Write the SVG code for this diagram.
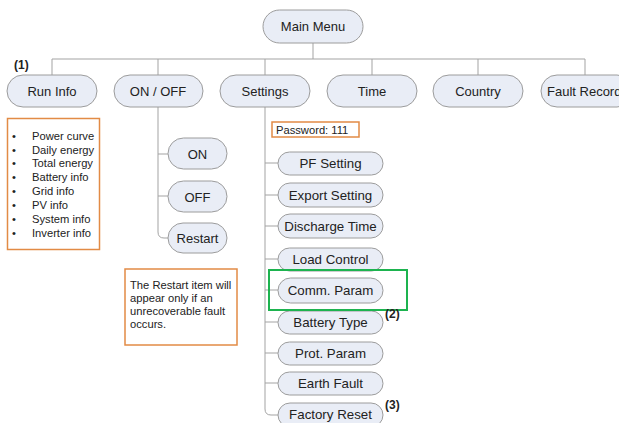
<svg xmlns="http://www.w3.org/2000/svg" width="619" height="423" viewBox="0 0 619 423">
  <style>
    .node { fill: #e9edf6; stroke: #9c9c9c; stroke-width: 1; }
    .lbl { font-family: "Liberation Sans", Arial, sans-serif; font-size: 13px; fill: #222; text-anchor: middle; }
    .sub { font-family: "Liberation Sans", Arial, sans-serif; font-size: 13.3px; fill: #222; text-anchor: middle; }
    .note { fill: #ffffff; stroke: #e28b45; stroke-width: 1.5; }
    .ntxt { font-family: "Liberation Sans", Arial, sans-serif; font-size: 11.2px; fill: #222; }
    .mark { font-family: "Liberation Sans", Arial, sans-serif; font-size: 12px; font-weight: bold; fill: #222; }
    .wire { fill: none; stroke: #a3a3a3; stroke-width: 1; }
  </style>
  <rect width="619" height="423" fill="#ffffff"/>

  <!-- connectors -->
  <g id="connectors" class="wire">
    <path d="M313 43 V59"/>
    <path d="M52 59 H585"/>
    <path d="M52 59 V75 M158 59 V75 M265 59 V75 M372 59 V75 M478 59 V75 M585 59 V75"/>
    <!-- ON / OFF branch -->
    <path d="M158 107 V232 Q158 238 164 238 H169"/>
    <path d="M158 154 H168 M158 196 H168"/>
    <!-- Settings branch -->
    <path d="M265 107 V409 Q265 415 271 415 H278"/>
    <path d="M265 163 H278 M265 195 H278 M265 226 H278 M265 259 H278 M265 290 H278 M265 322 H278 M265 353 H278 M265 383 H278"/>
  </g>

  <!-- top level -->
  <g id="main-menu"><rect class="node" x="263" y="10" width="100" height="33" rx="16.5"/><text class="lbl" x="313" y="31">Main Menu</text></g>
  <g id="run-info"><rect class="node" x="7" y="75" width="90" height="32" rx="16"/><text class="lbl" x="52" y="96">Run Info</text></g>
  <g id="on-off"><rect class="node" x="114" y="75" width="89" height="32" rx="16"/><text class="lbl" x="158" y="96">ON / OFF</text></g>
  <g id="settings"><rect class="node" x="220" y="75" width="90" height="32" rx="16"/><text class="lbl" x="265" y="96">Settings</text></g>
  <g id="time"><rect class="node" x="327" y="75" width="90" height="32" rx="16"/><text class="lbl" x="372" y="96">Time</text></g>
  <g id="country"><rect class="node" x="433" y="75" width="90" height="32" rx="16"/><text class="lbl" x="478" y="96">Country</text></g>
  <g id="fault-record"><rect class="node" x="541" y="75" width="92" height="32" rx="16"/><text class="lbl" x="547" y="96" style="text-anchor:start">Fault Record</text></g>
  <text class="mark" x="14" y="69">(1)</text>

  <!-- run info list -->
  <g id="run-info-list">
    <rect class="note" x="7.5" y="118.5" width="92" height="131"/>
    <g class="ntxt">
      <text x="12" y="140">•</text><text x="32" y="140">Power curve</text>
      <text x="12" y="154">•</text><text x="32" y="154">Daily energy</text>
      <text x="12" y="167">•</text><text x="32" y="167">Total energy</text>
      <text x="12" y="181">•</text><text x="32" y="181">Battery info</text>
      <text x="12" y="195">•</text><text x="32" y="195">Grid info</text>
      <text x="12" y="209">•</text><text x="32" y="209">PV info</text>
      <text x="12" y="223">•</text><text x="32" y="223">System info</text>
      <text x="12" y="237">•</text><text x="32" y="237">Inverter info</text>
    </g>
  </g>

  <!-- ON / OFF children -->
  <g id="on"><rect class="node" x="168" y="138" width="59" height="31" rx="15.5"/><text class="lbl" x="197.5" y="159">ON</text></g>
  <g id="off"><rect class="node" x="168" y="181" width="59" height="31" rx="15.5"/><text class="lbl" x="197.5" y="202">OFF</text></g>
  <g id="restart"><rect class="node" x="168" y="223" width="59" height="30" rx="15"/><text class="lbl" x="197.5" y="243">Restart</text></g>

  <g id="restart-note">
    <rect class="note" x="125" y="269" width="112" height="76"/>
    <g class="ntxt">
      <text x="130" y="289">The Restart item will</text>
      <text x="130" y="302">appear only if an</text>
      <text x="130" y="315">unrecoverable fault</text>
      <text x="130" y="328">occurs.</text>
    </g>
  </g>

  <!-- settings children -->
  <g id="password"><rect class="note" x="272" y="122" width="87" height="15"/><text class="ntxt" x="276" y="133.5">Password: 111</text></g>
  <g id="pf-setting"><rect class="node" x="278" y="152" width="105" height="23" rx="11.5"/><text class="sub" x="330.5" y="168">PF Setting</text></g>
  <g id="export-setting"><rect class="node" x="278" y="183" width="105" height="24" rx="12"/><text class="sub" x="330.5" y="199.5">Export Setting</text></g>
  <g id="discharge-time"><rect class="node" x="278" y="214" width="105" height="24" rx="12"/><text class="sub" x="330.5" y="230.5">Discharge Time</text></g>
  <g id="load-control"><rect class="node" x="278" y="248" width="105" height="23" rx="11.5"/><text class="sub" x="330.5" y="264">Load Control</text></g>
  <g id="comm-param"><rect class="node" x="278" y="278" width="105" height="25" rx="12.5"/><text class="sub" x="330.5" y="295">Comm. Param</text></g>
  <g id="battery-type"><rect class="node" x="278" y="311" width="105" height="23" rx="11.5"/><text class="sub" x="330.5" y="327">Battery Type</text></g>
  <g id="prot-param"><rect class="node" x="278" y="342" width="105" height="23" rx="11.5"/><text class="sub" x="330.5" y="358">Prot. Param</text></g>
  <g id="earth-fault"><rect class="node" x="278" y="372" width="105" height="23" rx="11.5"/><text class="sub" x="330.5" y="388">Earth Fault</text></g>
  <g id="factory-reset"><rect class="node" x="278" y="403" width="105" height="24" rx="12"/><text class="sub" x="330.5" y="419">Factory Reset</text></g>

  <rect id="highlight" x="269" y="270" width="138" height="40" fill="none" stroke="#1db34f" stroke-width="2"/>
  <text class="mark" x="385" y="318">(2)</text>
  <text class="mark" x="385" y="409">(3)</text>
</svg>
